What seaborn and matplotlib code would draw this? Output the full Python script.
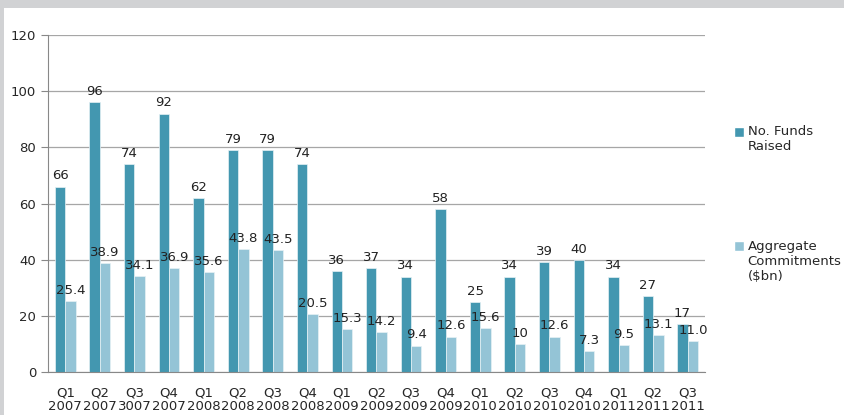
import pandas as pd
import seaborn as sns
import matplotlib.pyplot as plt
from matplotlib.patches import Rectangle, Patch
from matplotlib.legend_handler import HandlerPatch

# data
quarters = ["Q1\n2007", "Q2\n2007", "Q3\n3007", "Q4\n2007",
            "Q1\n2008", "Q2\n2008", "Q3\n2008", "Q4\n2008",
            "Q1\n2009", "Q2\n2009", "Q3\n2009", "Q4\n2009",
            "Q1\n2010", "Q2\n2010", "Q3\n2010", "Q4\n2010",
            "Q1\n2011", "Q2\n2011", "Q3\n2011"]
funds_raised = [66, 96, 74, 92, 62, 79, 79, 74, 36, 37, 34, 58, 25, 34, 39, 40, 34, 27, 17]
commitments = [25.4, 38.9, 34.1, 36.9, 35.6, 43.8, 43.5, 20.5, 15.3, 14.2, 9.4,
               12.6, 15.6, 10, 12.6, 7.3, 9.5, 13.1, 11.0]
commit_labels = ["25.4", "38.9", "34.1", "36.9", "35.6", "43.8", "43.5", "20.5", "15.3",
                 "14.2", "9.4", "12.6", "15.6", "10", "12.6", "7.3", "9.5", "13.1", "11.0"]
series_names = ["No. Funds\nRaised", "Aggregate\nCommitments\n($bn)"]
colors = ["#4397b0", "#94c4d6"]

df = pd.DataFrame({
    "quarter": quarters * 2,
    "value": funds_raised + commitments,
    "series": [series_names[0]] * len(quarters) + [series_names[1]] * len(quarters),
})

sns.set_style("white")
plt.rcParams["font.family"] = ["DejaVu Sans"]

fig = plt.figure(figsize=(8.44, 4.15), dpi=100)
fig.patch.set_facecolor("white")
# grey frame at the top and left edge
fig.patches.append(Rectangle((0, 1 - 8 / 415), 1, 8 / 415, transform=fig.transFigure,
                             facecolor="#d1d2d4", edgecolor="none", zorder=0))
fig.patches.append(Rectangle((0, 0), 4 / 844, 1, transform=fig.transFigure,
                             facecolor="#d1d2d4", edgecolor="none", zorder=0))

ax = fig.add_axes([48 / 844, 43 / 415, (705 - 48) / 844, (372 - 35) / 415])
sns.barplot(data=df, x="quarter", y="value", hue="series", order=quarters,
            hue_order=series_names, palette=colors, saturation=1, width=0.6, gap=0,
            edgecolor="#e6f1f5", linewidth=0.5, legend=False, ax=ax)

ax.bar_label(ax.containers[0], labels=[str(v) for v in funds_raised],
             padding=3, fontsize=9.5, color="#222222")
ax.bar_label(ax.containers[1], labels=commit_labels,
             padding=3, fontsize=9.5, color="#222222")

ax.set_ylim(0, 120)
ax.set_yticks(range(0, 121, 20))
ax.set_xlim(-0.5, len(quarters) - 0.5)
ax.set_xlabel("")
ax.set_ylabel("")
ax.yaxis.grid(True, color="#a6a6a6", linewidth=0.9)
ax.set_axisbelow(True)
for side in ["top", "right"]:
    ax.spines[side].set_visible(False)
ax.spines["left"].set_color("#888888")
ax.spines["bottom"].set_color("#888888")

# category boundaries as ticks, labels without tick marks
ax.set_xticks([i - 0.5 for i in range(len(quarters) + 1)], minor=True)
ax.tick_params(axis="x", which="minor", length=5, color="#888888", direction="out")
ax.tick_params(axis="x", which="major", length=0, labelsize=9.5, pad=10.5)
ax.tick_params(axis="y", length=5, color="#888888", labelsize=9.5, left=True)
for lab in ax.get_xticklabels():
    lab.set_linespacing(1.0)


# legend square level with the first line of its label
def top_square(legend, orig_handle, xdescent, ydescent, width, height, fontsize):
    n = orig_handle.get_label().count("\n") + 1
    text_h = (n - 1) * 1.2 * fontsize + 0.9 * fontsize
    top = -ydescent + height / 2 + text_h / 2
    return Rectangle((-xdescent, top - width - 0.1 * fontsize), width, width)


handles = [Patch(facecolor=c, label=s) for c, s in zip(colors, series_names)]
ax.legend(handles=handles, loc="upper left", bbox_to_anchor=(722 / 844, 1 - 113 / 415),
          bbox_transform=fig.transFigure, frameon=False, fontsize=9.5,
          handlelength=0.75, handleheight=0.75, handletextpad=0.3, labelspacing=6.6,
          handler_map={Patch: HandlerPatch(patch_func=top_square)})

fig.savefig("out.png", dpi=100)
